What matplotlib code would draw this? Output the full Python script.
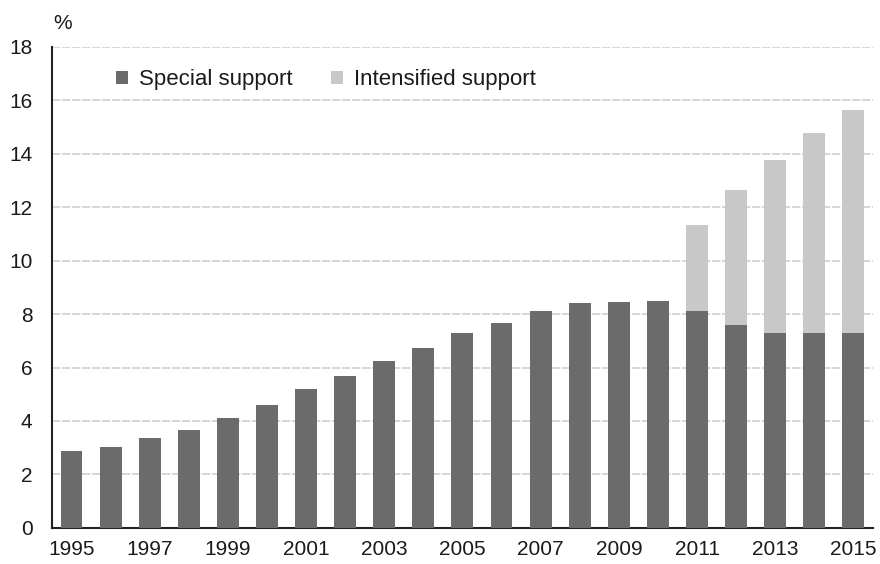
import matplotlib
matplotlib.use('Agg')
import matplotlib.pyplot as plt
import numpy as np

# data
years = list(range(1995, 2016))
special = [2.87, 3.02, 3.38, 3.67, 4.1, 4.6, 5.2, 5.7, 6.23, 6.73, 7.31, 7.67,
           8.1, 8.4, 8.47, 8.48, 8.13, 7.6, 7.31, 7.31, 7.31]
total = [2.87, 3.02, 3.38, 3.67, 4.1, 4.6, 5.2, 5.7, 6.23, 6.73, 7.31, 7.67,
         8.1, 8.4, 8.47, 8.48, 11.33, 12.66, 13.76, 14.78, 15.63]
intensified = [t - s for t, s in zip(total, special)]
yticks = list(range(0, 20, 2))

darkCol = '#6b6b6b'
lightCol = '#c8c8c8'
txtCol = '#1a1a1a'
plt.rcParams['font.family'] = ['Liberation Sans', 'DejaVu Sans']

fig = plt.figure(figsize=(8.8, 5.64), dpi=100)
ax = fig.add_axes([0.059, 0.064, 0.933, 0.853])

x = np.arange(len(years))
ax.bar(x, special, width=0.56, color=darkCol, label='Special support', zorder=3)
ax.bar(x, intensified, bottom=special, width=0.56, color=lightCol,
       label='Intensified support', zorder=3)

ax.set_xlim(-0.5, 20.5)
ax.set_ylim(0, 18)
ax.set_yticks(yticks)
ax.set_xticks(x[::2])
ax.set_xticklabels([str(y) for y in years[::2]])
ax.tick_params(axis='both', length=0, labelsize=15, colors=txtCol)
ax.tick_params(axis='x', pad=9)
ax.tick_params(axis='y', pad=14)

for yv in yticks[1:]:
    ax.axhline(yv, color='#cfcfcf', lw=1.2, ls=(0, (5, 1)), zorder=1)

for s in ['top', 'right']:
    ax.spines[s].set_visible(False)
for s in ['left', 'bottom']:
    ax.spines[s].set_color('#222222')
    ax.spines[s].set_linewidth(1.5)

fig.text(0.061, 0.941, '%', fontsize=15, color=txtCol, ha='left', va='bottom')

leg = ax.legend(loc='upper left', bbox_to_anchor=(0.132, 0.877), bbox_transform=fig.transFigure,
                ncol=2, frameon=False, fontsize=16, handlelength=0.55, handleheight=0.55,
                handletextpad=0.5, columnspacing=1.7, borderaxespad=0, borderpad=0)
for t in leg.get_texts():
    t.set_color(txtCol)

plt.savefig('out.png', dpi=100)
